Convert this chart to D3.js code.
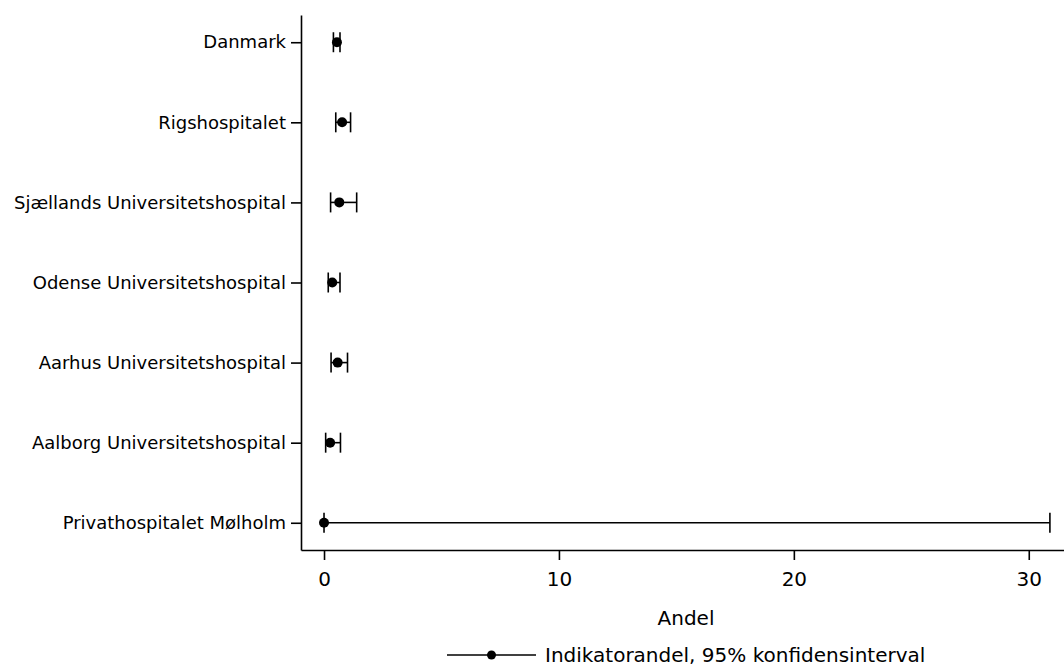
<!DOCTYPE html>
<html>
<head>
<meta charset="utf-8">
<script src="https://cdn.jsdelivr.net/npm/d3@7"></script>
<style>
	body { margin: 0; background: #fff; }
	svg { display: block; font-family: "DejaVu Sans", sans-serif; }
</style>
</head>
<body>
<div id="chart"></div>
<script>
// Categories, top to bottom
const hospitals = [
	"Danmark",
	"Rigshospitalet",
	"Sjællands Universitetshospital",
	"Odense Universitetshospital",
	"Aarhus Universitetshospital",
	"Aalborg Universitetshospital",
	"Privathospitalet Mølholm",
];
// Indicator share (%) and 95% confidence limits
const andel = [0.55, 0.77, 0.65, 0.35, 0.58, 0.26, 0.0];
const lower = [0.40, 0.50, 0.28, 0.18, 0.30, 0.07, 0.0];
const upper = [0.68, 1.13, 1.39, 0.68, 1.00, 0.70, 30.9];
const xTicks = [0, 10, 20, 30];

const rows = hospitals.map((h, i) => ({
	name: h,
	v: andel[i],
	lo: lower[i],
	hi: upper[i],
}));

const WIDTH = 1064;
const HEIGHT = 666;
const MARGIN = { top: 15, right: 0, bottom: 116, left: 301 };
const FONT = "DejaVu Sans, sans-serif";

const svg = d3.select("#chart")
	.append("svg")
	.attr("width", WIDTH)
	.attr("height", HEIGHT);

const x = d3.scaleLinear()
	.domain([-0.98, 31.5])
	.range([MARGIN.left, WIDTH - MARGIN.right]);

const y = d3.scalePoint()
	.domain(hospitals)
	.range([MARGIN.top, HEIGHT - MARGIN.bottom])
	.padding(0.34);

// x axis
const xAxis = svg.append("g")
	.attr("transform", `translate(0, ${HEIGHT - MARGIN.bottom})`)
	.call(d3.axisBottom(x).tickValues(xTicks).tickSize(10).tickPadding(12).tickSizeOuter(0))
	.attr("font-family", FONT)
	.attr("font-size", 20);
xAxis.selectAll("text").attr("fill", "#000");
xAxis.selectAll("line, path").attr("stroke", "#000").attr("stroke-width", 1.6);

// y axis
const yAxis = svg.append("g")
	.attr("transform", `translate(${MARGIN.left}, 0)`)
	.call(d3.axisLeft(y).tickSize(10).tickPadding(5).tickSizeOuter(0))
	.attr("font-family", FONT)
	.attr("font-size", 18);
yAxis.selectAll("text").attr("fill", "#000");
yAxis.selectAll("line, path").attr("stroke", "#000").attr("stroke-width", 1.6);

// axis title
svg.append("text")
	.attr("x", 686)
	.attr("y", 618)
	.attr("dy", "0.35em")
	.attr("text-anchor", "middle")
	.style("font-size", "20px")
	.text("Andel");

// error bars
const capH = 10;
const g = svg.append("g");
const bars = g.selectAll("g.row")
	.data(rows)
	.join("g")
	.attr("class", "row")
	.attr("transform", (d) => `translate(0, ${y(d.name)})`);

bars.append("line")
	.attr("x1", (d) => x(d.lo))
	.attr("x2", (d) => x(d.hi))
	.attr("stroke", "#000")
	.attr("stroke-width", 1.6);
bars.append("line")
	.attr("x1", (d) => x(d.lo))
	.attr("x2", (d) => x(d.lo))
	.attr("y1", -capH)
	.attr("y2", capH)
	.attr("stroke", "#000")
	.attr("stroke-width", 1.6);
bars.append("line")
	.attr("x1", (d) => x(d.hi))
	.attr("x2", (d) => x(d.hi))
	.attr("y1", -capH)
	.attr("y2", capH)
	.attr("stroke", "#000")
	.attr("stroke-width", 1.6);
bars.append("circle")
	.attr("cx", (d) => x(d.v))
	.attr("r", 5)
	.attr("fill", "#000");

// legend
const legend = svg.append("g").attr("transform", "translate(447, 655)");
legend.append("line")
	.attr("x1", 0)
	.attr("x2", 89)
	.attr("stroke", "#000")
	.attr("stroke-width", 1.6);
legend.append("circle")
	.attr("cx", 44.5)
	.attr("r", 4.5)
	.attr("fill", "#000");
legend.append("text")
	.attr("x", 98)
	.attr("dy", "0.33em")
	.style("font-size", "20px")
	.text("Indikatorandel, 95% konfidensinterval");
</script>
</body>
</html>
